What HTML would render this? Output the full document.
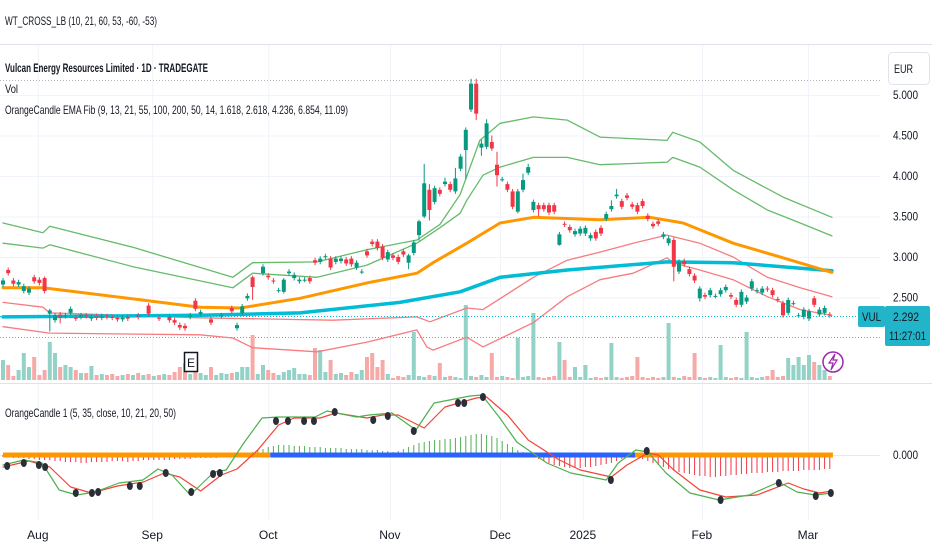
<!DOCTYPE html>
<html><head><meta charset="utf-8"><style>
html,body{margin:0;padding:0;background:#fff;}
svg{display:block;font-family:"Liberation Sans",sans-serif;}
</style></head><body>
<svg id="chart" width="932" height="550" viewBox="0 0 932 550" xmlns="http://www.w3.org/2000/svg">
<rect x="0" y="0" width="932" height="550" fill="#ffffff"/>
<g id="grid"></g>
<line x1="0" y1="44.5" x2="932" y2="44.5" stroke="#e0e3eb"/>
<line x1="0" y1="383.5" x2="932" y2="383.5" stroke="#e0e3eb"/>
<line x1="0" y1="80.5" x2="880" y2="80.5" stroke="#b2b5be" stroke-dasharray="1,2"/>
<line x1="0" y1="337.5" x2="880" y2="337.5" stroke="#9598a1" stroke-dasharray="1,2"/>
<g id="vol"></g>
<g id="bands"></g>
<g id="candles"></g>
<line x1="0" y1="316.5" x2="860" y2="316.5" stroke="#00bcd4" stroke-dasharray="1,2"/>
<g id="osc"></g>
<text x="5" y="25" font-size="12" fill="#131722" textLength="152" lengthAdjust="spacingAndGlyphs">WT_CROSS_LB (10, 21, 60, 53, -60, -53)</text>
<text x="5" y="72" font-size="12" fill="#131722" font-weight="bold" textLength="203" lengthAdjust="spacingAndGlyphs">Vulcan Energy Resources Limited · 1D · TRADEGATE</text>
<text x="5" y="93" font-size="12" fill="#131722" textLength="13" lengthAdjust="spacingAndGlyphs">Vol</text>
<text x="5" y="114" font-size="12" fill="#131722" textLength="343" lengthAdjust="spacingAndGlyphs">OrangeCandle EMA Fib (9, 13, 21, 55, 100, 200, 50, 14, 1.618, 2.618, 4.236, 6.854, 11.09)</text>
<text x="5" y="417" font-size="12" fill="#131722" textLength="171" lengthAdjust="spacingAndGlyphs">OrangeCandle 1 (5, 35, close, 10, 21, 20, 50)</text>
<rect x="888.5" y="52.5" width="41" height="32" rx="4" fill="#fff" stroke="#e0e3eb"/>
<text x="894" y="73" font-size="12" fill="#131722" textLength="19" lengthAdjust="spacingAndGlyphs">EUR</text>
<g id="yaxis"></g>
<g id="xaxis"></g>
<rect x="858" y="306" width="27" height="21" rx="2" fill="#22b5c9"/>
<text x="862" y="321" font-size="12" fill="#131722" textLength="19" lengthAdjust="spacingAndGlyphs">VUL</text>
<rect x="885" y="306" width="45" height="40" rx="2" fill="#22b5c9"/>
<text x="893" y="321" font-size="12" fill="#131722" textLength="26" lengthAdjust="spacingAndGlyphs">2.292</text>
<text x="889" y="340" font-size="12" fill="#131722" textLength="37" lengthAdjust="spacingAndGlyphs">11:27:01</text>
<rect x="184.5" y="352.5" width="13" height="19" fill="#fff" stroke="#131722" stroke-width="1.5"/>
<text x="187" y="367" font-size="12" fill="#131722">E</text>
<circle cx="833" cy="362" r="10" fill="#fff" stroke="#9c27b0" stroke-width="1.5"/>
<path d="M835 354 L829 363 L833 363 L831 370 L837 360 L833 360 Z" fill="none" stroke="#9c27b0" stroke-width="1.2"/>
</svg>
<script>
const NS='http://www.w3.org/2000/svg';
// ---- data ----
const candleIdx=[0,1,2,3,4,5,6,7,8,9,10,11,12,13,14,15,16,17,18,19,20,21,22,23,24,26,28,30,32,33,34,35,36,37,38,40,42,44,45,46,47,48,50,51,52,53,54,55,56,57,58,59,60,61,62,63,64,65,66,67,68,69,70,71,72,73,74,75,76,77,78,79,80,81,82,83,84,85,86,87,88,89,90,91,92,93,94,95,96,97,98,99,100,101,102,103,104,105,106,107,108,109,110,111,112,113,114,115,116,117,118,119,120,121,122,123,124,125,126,127,128,129,130,131,132,133,134,135,136,137,138,139,140,141,142,143,144,145,146,147,148,149,150,151,152,153,154,155,156,157,158,159];
const candleOpen=[2.66,2.84,2.71,2.66,2.58,2.56,2.75,2.72,2.74,2.30,2.22,2.29,2.27,2.31,2.25,2.26,2.28,2.24,2.27,2.25,2.27,2.26,2.25,2.23,2.26,2.28,2.40,2.25,2.26,2.22,2.16,2.15,2.26,2.46,2.30,2.23,2.27,2.37,2.12,2.31,2.49,2.75,2.80,2.77,2.71,2.59,2.57,2.80,2.74,2.70,2.72,2.74,2.96,2.94,3.00,2.98,2.94,2.95,2.97,2.98,2.87,2.82,3.07,3.19,3.19,3.13,2.97,3.02,3.00,3.07,2.93,3.05,3.27,3.50,3.83,3.68,3.83,3.90,3.90,3.81,4.09,4.32,4.82,5.14,4.35,4.36,4.42,4.14,3.96,3.90,3.81,3.56,3.83,4.04,3.58,3.64,3.64,3.64,3.64,3.15,3.41,3.37,3.28,3.29,3.29,3.23,3.31,3.36,3.47,3.59,3.75,3.69,3.76,3.65,3.64,3.69,3.51,3.41,3.44,3.25,3.17,3.21,2.82,2.95,2.85,2.77,2.49,2.53,2.53,2.52,2.54,2.59,2.53,2.47,2.41,2.45,2.61,2.58,2.56,2.61,2.59,2.48,2.43,2.31,2.43,2.28,2.26,2.24,2.49,2.29,2.31,2.29];
const candleClose=[2.71,2.80,2.67,2.69,2.64,2.61,2.70,2.68,2.58,2.34,2.28,2.25,2.28,2.36,2.24,2.28,2.27,2.26,2.25,2.27,2.26,2.25,2.23,2.25,2.24,2.26,2.30,2.24,2.22,2.19,2.13,2.12,2.28,2.36,2.32,2.19,2.28,2.33,2.16,2.39,2.52,2.63,2.88,2.75,2.70,2.59,2.72,2.82,2.78,2.72,2.72,2.70,2.93,2.98,3.01,2.87,2.98,2.98,2.92,2.91,2.93,2.82,3.02,3.16,3.11,2.99,3.06,2.99,2.94,3.03,3.02,3.18,3.44,3.91,3.58,3.85,3.78,3.93,3.83,3.97,4.24,4.57,5.14,4.77,4.40,4.65,4.34,4.01,3.96,3.83,3.62,3.81,3.95,4.11,3.68,3.59,3.59,3.55,3.56,3.28,3.40,3.33,3.32,3.35,3.36,3.27,3.23,3.29,3.53,3.63,3.77,3.62,3.73,3.62,3.56,3.63,3.47,3.38,3.41,3.28,3.23,2.88,2.94,2.91,2.79,2.71,2.61,2.51,2.59,2.52,2.59,2.63,2.51,2.41,2.57,2.50,2.70,2.59,2.61,2.60,2.53,2.47,2.28,2.47,2.43,2.28,2.35,2.33,2.41,2.35,2.37,2.28];
const candleHigh={9:2.36,8:2.76,48:2.77,50:2.91,54:2.74,78:3.04,80:3.46,81:4.15,82:3.90,83:3.88,85:3.98,87:4.10,89:4.60,90:5.20,91:5.20,92:4.45,93:4.70,94:4.50,95:4.30,100:4.03,101:4.15,117:3.70,118:3.84};
const candleLow={9:2.08,11:2.18,48:2.47,54:2.55,78:2.85,80:3.20,81:3.48,82:3.45,87:3.78,89:3.96,91:4.69,92:4.25,95:3.87,99:3.54,103:3.50,107:3.14,129:2.70,134:2.45};
const volIdx=[0,1,2,3,4,5,6,7,8,9,10,11,12,13,14,15,16,17,18,19,20,21,22,23,24,25,26,27,28,29,30,31,32,33,34,35,36,37,38,39,40,41,42,43,44,45,46,47,48,49,50,51,52,53,54,55,56,57,58,59,60,61,62,63,64,65,66,67,68,69,70,71,72,73,74,75,76,77,78,79,80,81,82,83,84,85,86,87,88,89,90,91,92,93,94,95,96,97,98,99,100,101,102,103,104,105,106,107,108,109,110,111,112,113,114,115,116,117,118,119,120,121,122,123,124,125,126,127,128,129,130,131,132,133,134,135,136,137,138,139,140,141,142,143,144,145,146,147,148,149,150,151,152,153,154,155,156,157,158,159];
const volVal=[20,15,4,10,27,13,23,5,10,38,27,13,15,13,10,7,7,14,5,6,5,6,4,5,6,5,7,5,6,4,5,6,5,8,13,17,6,12,7,5,13,5,7,6,7,8,13,13,45,6,15,10,7,5,8,10,12,6,6,5,32,30,8,20,6,7,5,8,6,10,23,27,13,20,6,2,4,3,5,48,4,3,5,4,17,3,4,3,2,75,4,3,5,3,27,3,4,3,2,42,3,4,67,3,2,3,4,38,20,3,13,3,15,2,3,2,3,37,3,2,3,4,23,3,2,3,2,3,57,3,2,4,3,27,3,2,3,2,35,3,2,3,2,48,3,2,3,4,10,3,4,22,15,23,15,25,18,15,10,4];
const bandOuterIdx=[0,7.7,9,25,44.2,48,60.4,70,79.6,84,87.9,91.7,95.6,102,108.5,114.8,127.7,128.8,134,140.4,150,159.4];
const bandOuterVal=[3.42,3.30,3.38,3.12,2.75,2.93,2.94,3.09,3.21,3.40,3.77,4.44,4.65,4.73,4.69,4.48,4.44,4.54,4.42,4.07,3.74,3.49];
const bandInnerIdx=[0,7.7,9,25,44.2,48,60.4,70,79.6,84,87.9,89.2,92.3,95.6,102,108.5,114.8,127.7,128.8,134,140.4,147,153.3,159.4];
const bandInnerVal=[3.17,3.11,3.15,2.88,2.62,2.80,2.75,2.90,3.17,3.36,3.54,3.70,4.01,4.11,4.23,4.23,4.14,4.17,4.23,4.11,3.83,3.58,3.42,3.26];
const emaOrangeIdx=[0,7.7,37.9,45.6,57.1,70,79.6,82.7,89.2,95.6,102,114.8,124.4,130.8,140.4,150,159.4];
const emaOrangeVal=[2.62,2.62,2.38,2.37,2.49,2.68,2.80,2.93,3.17,3.42,3.49,3.46,3.49,3.42,3.17,2.99,2.81];
const emaCyanIdx=[0,37.9,57.1,76.3,87.9,95.6,108.5,127.7,140.4,159.4];
const emaCyanVal=[2.26,2.28,2.31,2.44,2.57,2.75,2.84,2.94,2.93,2.83];
const redUpperIdx=[0,7.7,9,37.9,63.5,79.6,82.1,89.2,92.3,102,108.5,114.8,121.2,127.7,134,140.4,147,153.3,159.4];
const redUpperVal=[2.44,2.38,2.31,2.25,2.22,2.26,2.20,2.37,2.35,2.75,2.96,3.06,3.17,3.27,3.17,3.00,2.75,2.62,2.51];
const redLowerIdx=[0,9,37.9,44.2,48,60.4,70,79.6,81.5,82.7,89.2,92.3,102,108.5,114.8,121.2,127.7,128.8,134,140.4,147,153.3,159.4];
const redLowerVal=[2.14,2.06,2.04,2.00,1.88,1.83,1.95,2.10,1.89,1.85,2.01,1.89,2.19,2.51,2.72,2.80,2.99,2.93,2.84,2.72,2.51,2.35,2.28];
const oscGreenIdx=[0,4,7.5,10.8,14.2,17.7,22.3,26.9,29.8,32.5,36,40.6,42.9,46.3,49.8,53,60,62.3,68,70.4,74.8,79.4,82.9,89.8,92.1,95.4,98.8,104.6,109.2,116,118.3,121.7,124,127.5,132.1,137.7,143.5,149.2,152.7,156.2,159.4];
const oscGreenVal=[-10,-5,-8,-35,-40,-37,-28,-25,-14,-20,-40,-17,-15,12,37,38,38,44,38,40,42,25,52,59,60,38,13,-8,-18,-25,-8,5,3,-18,-38,-45,-40,-27,-37,-40,-38];
const oscRedIdx=[0,5,9,13,17,22,27,31,34,38,42,45,49,53,56,61,64,70,73,76,81,85,91,93,97,101,107,111,117,120,124,126,129,134,139,145,151,154,157,159.4];
const oscRedVal=[-12,-6,-12,-32,-38,-31,-27,-18,-22,-36,-20,-14,5,30,37,37,42,37,40,40,27,48,57,58,40,15,-5,-15,-22,-10,2,0,-15,-35,-42,-40,-28,-34,-38,-36];
const dotIdx=[0.8,4,6.9,8.1,14,17.1,18.3,24.4,26.3,31.3,36.2,40.4,41.7,52.5,54.8,57.9,59.8,63.8,71.2,74,79,87.5,88.7,92.3,116.9,123.8,138,149.2,156.3,159.2];
const dotVal=[-11,-8,-10,-12,-38,-38,-37,-31,-31,-18,-37,-19,-18,34,34,34,34,43,35,39,24,52,52,58,-25,4,-45,-28,-41,-38];
const histVal=[-2,-2,-3,-3,-3,-4,-4,-5,-5,-5,
-6,-6,-7,-7,-7,-8,-8,-7,-7,-7,-7,-6,-6,-6,-7,-6,-6,-5,-5,-5,-5,-5,-5,-4,-4,-4,-4,-3,-3,-3,-3,-3,-2,-2,-2,-2,-1,2,3,5,
6,8,9,10,10,10,9,9,9,8,8,8,7,7,7,7,6,6,6,6,5,5,5,4,4,3,4,6,8,10,12,13,14,15,15,16,16,17,18,19,20,21,21,20,19,17,14,11,8,5,3,1,
-2,-4,-6,-8,-10,-11,-12,-13,-13,-13,-12,-12,-11,-10,-9,-8,-6,-4,-2,-1,
-2,-4,-6,-8,-10,-12,-14,-16,-17,-18,-19,-20,-21,-21,-22,-22,-21,-21,-20,-20,-19,-19,-18,-18,-18,-17,-17,-17,-16,-16,-16,-16,-15,-15,-15,-15,-14,-14];
const zeroSegStart=[0,51.4,121.6];
const zeroSegEnd=[51.4,121.6,159.6];
const zeroSegColor=['#ff9800','#2962ff','#ff9800'];
const priceTicks=[5.0,4.5,4.0,3.5,3.0,2.5];
const priceTickLabels=['5.000','4.500','4.000','3.500','3.000','2.500'];
const monthIdx=[6.7,28.7,51,74.4,95.6,111.5,134.4,154.8];
const monthLabels=['Aug','Sep','Oct','Nov','Dec','2025','Feb','Mar'];

// ---- scales ----
const X=i=>3+i*5.2;
const Y=p=>257-(p-3)*81;
const VY=v=>380-v;
const OY=v=>455-v;

function mk(tag,attrs,parent){const e=document.createElementNS(NS,tag);for(const k in attrs)e.setAttribute(k,attrs[k]);parent.appendChild(e);return e;}
const grid=document.getElementById('grid');
priceTicks.forEach((p,k)=>{
  const l=mk('line',{x1:0,x2:880,y1:Y(p)+0.5,y2:Y(p)+0.5,stroke:'#f0f3fa'},grid);
  
  
});
monthIdx.forEach(m=>{
  const l=mk('line',{x1:X(m)+0.5,x2:X(m)+0.5,y1:45,y2:520,stroke:'#f0f3fa'},grid);
  
  
});
const zl=mk('line',{x1:0,x2:880,y1:OY(0)+0.5,y2:OY(0)+0.5,stroke:'#e8eaf0'},grid);



// axis labels
const ya=document.getElementById('yaxis');
priceTicks.forEach((p,k)=>{
  const t=mk('text',{x:893,y:Y(p)+4,'font-size':12,fill:'#131722',textLength:25,lengthAdjust:'spacingAndGlyphs'},ya);
  t.textContent=priceTickLabels[k];
  
  
});
const ot=mk('text',{x:893,y:OY(0)+4,'font-size':12,fill:'#131722',textLength:25,lengthAdjust:'spacingAndGlyphs'},ya);
ot.textContent='0.000';


const xa=document.getElementById('xaxis');
monthIdx.forEach((m,k)=>{
  const t=mk('text',{x:X(m),y:539,'font-size':12,fill:'#131722','text-anchor':'middle'},xa);
  t.textContent=monthLabels[k];
  
  
});

const dirMap={};
candleIdx.forEach((i,k)=>{dirMap[i]=candleClose[k]>=candleOpen[k];});
const vg=document.getElementById('vol');
volIdx.forEach((i,k)=>{
  const up=(dirMap[i]===undefined)?true:dirMap[i];
  const r=mk('rect',{x:X(i)-2,y:VY(volVal[k]),width:4,height:volVal[k],fill:up?'#92d2c7':'#f7a9a7'},vg);
  
  
});
const bg=document.getElementById('bands');
function line(idx,val,yf,color,w,name,parent){
  const pts=idx.map((i,k)=>X(i).toFixed(1)+','+yf(val[k]).toFixed(1)).join(' ');
  const pl=mk('polyline',{points:pts,fill:'none',stroke:color,'stroke-width':w,'stroke-linejoin':'round','stroke-linecap':'round'},parent);
  
  
}
line(redLowerIdx,redLowerVal,Y,'#f77c80',1.3,'lower-red-band',bg);
line(redUpperIdx,redUpperVal,Y,'#f77c80',1.3,'upper-red-band',bg);
line(bandOuterIdx,bandOuterVal,Y,'#66bb6a',1.3,'outer-green-band',bg);
line(bandInnerIdx,bandInnerVal,Y,'#66bb6a',1.3,'inner-green-band',bg);
line(emaCyanIdx,emaCyanVal,Y,'#00bcd4',3.5,'ema-200-line',bg);
line(emaOrangeIdx,emaOrangeVal,Y,'#ff9800',3,'ema-55-line',bg);
const cg=document.getElementById('candles');
candleIdx.forEach((i,k)=>{
  const o=candleOpen[k],c=candleClose[k];
  const h=candleHigh[i]!==undefined?candleHigh[i]:Math.max(o,c)+0.03;
  const l=candleLow[i]!==undefined?candleLow[i]:Math.min(o,c)-0.03;
  const col=c>=o?'#089981':'#f23645';
  const x=X(i);
  const w=mk('line',{x1:x,x2:x,y1:Y(h),y2:Y(l),stroke:col,'stroke-width':1},cg);
  
  
  const top=Y(Math.max(o,c)),bh=Math.max(1,Y(Math.min(o,c))-top);
  const b=mk('rect',{x:x-2,y:top,width:4,height:bh,fill:col},cg);
  
  
});
const og=document.getElementById('osc');
histVal.forEach((v,i)=>{
  const hl=mk('line',{x1:X(i),x2:X(i),y1:OY(0),y2:OY(v),stroke:v>=0?'#4caf50':'#f23645','stroke-width':1},og);
  
  
});
zeroSegStart.forEach((s,k)=>{
  const zs=mk('line',{x1:X(s),x2:X(zeroSegEnd[k]),y1:OY(0),y2:OY(0),stroke:zeroSegColor[k],'stroke-width':5},og);
  
  
});
line(oscRedIdx,oscRedVal,OY,'#f44336',1.2,'osc-signal-line',og);
line(oscGreenIdx,oscGreenVal,OY,'#4caf50',1.2,'osc-main-line',og);
dotIdx.forEach((i,k)=>{
  const d=mk('ellipse',{cx:X(i),cy:OY(dotVal[k]),rx:3,ry:4,fill:'#2a2e39'},og);
  
  
});
</script>
</body></html>
